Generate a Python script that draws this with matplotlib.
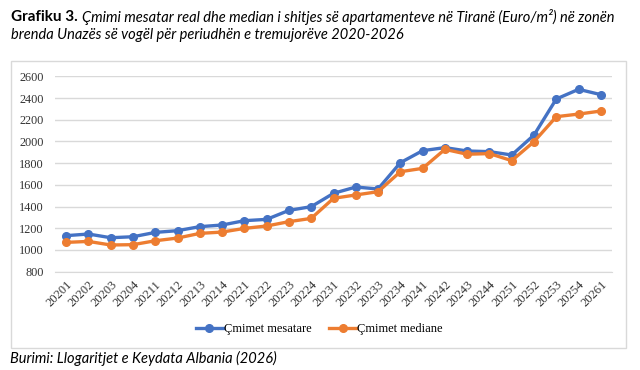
import numpy as np
import matplotlib.pyplot as plt
from matplotlib.patches import Rectangle

# quarters (year + quarter)
quarters = ["20201", "20202", "20203", "20204", "20211", "20212", "20213", "20214",
            "20221", "20222", "20223", "20224", "20231", "20232", "20233", "20234",
            "20241", "20242", "20243", "20244", "20251", "20252", "20253", "20254",
            "20261"]

# average price (Euro/m2)
mesatare = [1132, 1147, 1113, 1122, 1162, 1178, 1215, 1230, 1270, 1282, 1365, 1399,
            1522, 1580, 1562, 1804, 1915, 1943, 1912, 1906, 1875, 2059, 2391, 2480, 2431]
# median price (Euro/m2)
mediane = [1070, 1079, 1046, 1049, 1085, 1110, 1153, 1165, 1199, 1221, 1261, 1291,
           1476, 1507, 1537, 1721, 1752, 1927, 1882, 1888, 1823, 1998, 2228, 2252, 2280]

yticks = [800, 1000, 1200, 1400, 1600, 1800, 2000, 2200, 2400, 2600]

W, H = 640, 370
fig = plt.figure(figsize=(W / 100, H / 100), dpi=100)

# chart frame
fig.patches.append(Rectangle((11 / W, 1 - 348 / H), 615 / W, 287 / H,
                             transform=fig.transFigure, fill=False,
                             edgecolor="#d9d9d9", lw=1))

ax = fig.add_axes([55 / W, 1 - 271.7 / H, 557 / W, 195.4 / H])
x = np.arange(len(quarters))
ax.plot(x, mesatare, color="#4472C4", lw=2.4, marker="o", ms=5.5, label="Çmimet mesatare")
ax.plot(x, mediane, color="#ED7D31", lw=2.4, marker="o", ms=5.5, label="Çmimet mediane")

ax.set_xlim(-0.5, len(quarters) - 0.5)
ax.set_ylim(800, 2600)
ax.set_yticks(yticks)
ax.set_xticks(x)
ax.set_xticklabels(quarters, rotation=45, ha="right", rotation_mode="anchor",
                   family="Liberation Serif", fontsize=9, color="#333333")
for lab in ax.get_yticklabels():
    lab.set_family("Liberation Serif")
    lab.set_fontsize(8.8)
    lab.set_color("#333333")
ax.tick_params(length=0)
ax.tick_params(axis="y", pad=8)
ax.tick_params(axis="x", pad=5)
ax.grid(axis="y", color="#d9d9d9", lw=1)
ax.set_axisbelow(True)
for s in ["top", "right", "left"]:
    ax.spines[s].set_visible(False)
ax.spines["bottom"].set_color("#d9d9d9")

pos = ax.get_position()
ax.legend(loc="center", bbox_to_anchor=(0.474, (1 - 329 / H - pos.y0) / pos.height),
          ncol=2, frameon=False, prop={"family": "Liberation Serif", "size": 9},
          handlelength=2.2, columnspacing=1.4, handletextpad=0.05)

# title: bold part followed by italic part
t1 = fig.text(11 / W, 1 - 17 / H, "Grafiku 3.", family="Lato", weight="bold",
              fontsize=11, va="center")
fig.canvas.draw()
bb = t1.get_window_extent()
fig.text((bb.x1 + 4) / W, 1 - 17 / H,
         "Çmimi mesatar real dhe median i shitjes së apartamenteve në Tiranë (Euro/m²) në zonën",
         family="Lato", style="italic", fontsize=10.5, va="center")
fig.text(11 / W, 1 - 35 / H,
         "brenda Unazës së vogël për periudhën e tremujorëve 2020-2026",
         family="Lato", style="italic", fontsize=10.5, va="center")

fig.text(10 / W, 1 - 358 / H, "Burimi: Llogaritjet e Keydata Albania (2026)",
         family="Lato", style="italic", fontsize=10.5, va="center")

fig.savefig("out.png", dpi=100)
